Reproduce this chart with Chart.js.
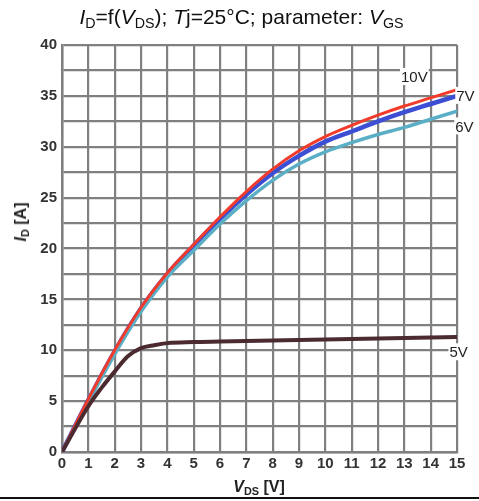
<!DOCTYPE html>
<html>
<head>
<meta charset="utf-8">
<script src="https://cdn.jsdelivr.net/npm/chart.js@4.4.0/dist/chart.umd.min.js"></script>
<style>
  html, body { margin:0; padding:0; background:#fff; }
  #wrap { position:relative; width:479px; height:501px; overflow:hidden; font-family:"Liberation Sans", Arial, sans-serif; }
  #c { position:absolute; left:0; top:0; }
  .title { position:absolute; left:2px; width:479px; top:5px; text-align:center; font-size:21px; color:#111; line-height:24px; white-space:nowrap; }
  .title sub, .axt sub { font-size:0.68em; vertical-align:-0.25em; line-height:0; }
  .axt { position:absolute; font-weight:bold; font-size:16px; color:#222; white-space:nowrap; line-height:18px; }
  #xt { left:0; width:518px; text-align:center; top:478px; }
  #yt { left:21px; top:222px; transform:translate(-50%,-50%) rotate(-90deg); }
  #bline { position:absolute; left:0; top:497px; width:479px; height:2px; background:#111; }
</style>
</head>
<body>
<div id="wrap">
  <canvas id="c" width="479" height="501"></canvas>
  <div class="title"><i>I</i><sub>D</sub>=f(<i>V</i><sub>DS</sub>); <i>T</i>j=25°C; parameter: <i>V</i><sub>GS</sub></div>
  <div class="axt" id="xt"><i>V</i><sub>DS</sub> [V]</div>
  <div class="axt" id="yt"><i>I</i><sub>D</sub> [A]</div>
  <div id="bline"></div>
</div>
<script>
// ---- data ----
const vds = [0,1,2,3,4,5,6,7,8,9,10,11,12,13,14,15];
const id10V = [0,5.2,10.0,14.2,17.6,20.4,23.1,25.6,27.8,29.6,31.0,32.1,33.1,34.0,34.8,35.6];
const id7V  = [0,5.1,9.9,14.1,17.5,20.3,22.9,25.3,27.4,29.1,30.5,31.5,32.5,33.4,34.2,35.0];
const id6V  = [0,4.9,9.6,13.8,17.2,19.8,22.4,24.7,26.7,28.3,29.5,30.4,31.2,31.9,32.7,33.5];
const vds5  = [0,1,1.5,2,2.5,3,3.5,4,5,6,7,8,9,10,11,12,13,14,15];
const id5V  = [0,4.5,6.3,7.9,9.4,10.2,10.5,10.7,10.8,10.85,10.9,10.95,11.0,11.05,11.1,11.15,11.2,11.25,11.3];
const seriesNames = ['10V','7V','6V','5V'];
const xTicks = {min:0, max:15, step:1};
const yTicks = {min:0, max:40, step:2.5, labelEvery:5};

// curve label anchors (data coordinates)
const labelAnchors = [
  {text:'10V', x:13.38, y:36.85},
  {text:'7V',  x:15.32, y:35.0},
  {text:'6V',  x:15.28, y:32.0},
  {text:'5V',  x:15.06, y:9.8}
];

const pts = (xs, ys) => xs.map((x,i)=>({x:x, y:ys[i]}));

const labelPlugin = {
  id:'curveLabels',
  afterDatasetsDraw(chart){
    const {ctx, scales:{x, y}} = chart;
    ctx.save();
    ctx.font = '15px "Liberation Sans", Arial, sans-serif';
    ctx.textAlign = 'center';
    ctx.textBaseline = 'middle';
    labelAnchors.forEach(a=>{
      const px = x.getPixelForValue(a.x), py = y.getPixelForValue(a.y);
      const w = ctx.measureText(a.text).width + 2;
      ctx.fillStyle = '#fff';
      ctx.fillRect(px - w/2, py - 9, w, 17);
      ctx.fillStyle = '#222';
      ctx.fillText(a.text, px, py + 1);
    });
    ctx.restore();
  }
};

const gridColor = '#808080';
const tickFont = {family:'"Liberation Sans", Arial, sans-serif', size:15, weight:'bold'};

new Chart(document.getElementById('c'), {
  type:'line',
  data:{
    datasets:[
      {label:seriesNames[0], data:pts(vds,id10V), borderColor:'#f23b2b', borderWidth:3, order:1},
      {label:seriesNames[1], data:pts(vds,id7V),  borderColor:'#3c4fd4', borderWidth:4.5, order:3},
      {label:seriesNames[2], data:pts(vds,id6V),  borderColor:'#5aafc6', borderWidth:3.5, order:2},
      {label:seriesNames[3], data:pts(vds5,id5V), borderColor:'#4b2a30', borderWidth:4, order:0}
    ]
  },
  options:{
    responsive:false,
    animation:false,
    elements:{ point:{radius:0}, line:{cubicInterpolationMode:'monotone', borderCapStyle:'round'} },
    layout:{ padding:{top:45, right:22, left:0, bottom:0} },
    plugins:{ legend:{display:false}, title:{display:false}, tooltip:{enabled:false} },
    scales:{
      x:{
        type:'linear', min:xTicks.min, max:xTicks.max,
        ticks:{ stepSize:xTicks.step, autoSkip:false, maxRotation:0, color:'#333', font:tickFont, padding:3 },
        grid:{ color:gridColor, lineWidth:2.2, drawTicks:false },
        border:{ color:gridColor, width:2.5 },
        afterFit(s){ s.height = 49; }
      },
      y:{
        type:'linear', min:yTicks.min, max:yTicks.max,
        ticks:{ stepSize:yTicks.step, autoSkip:false, color:'#333', font:tickFont, padding:5,
          callback:(v)=> (v % yTicks.labelEvery === 0 ? String(v) : '') },
        grid:{ color:gridColor, lineWidth:2.2, drawTicks:false },
        border:{ color:gridColor, width:2.5 },
        afterFit(s){ s.width = 62; }
      }
    }
  },
  plugins:[labelPlugin]
});
</script>
</body>
</html>
